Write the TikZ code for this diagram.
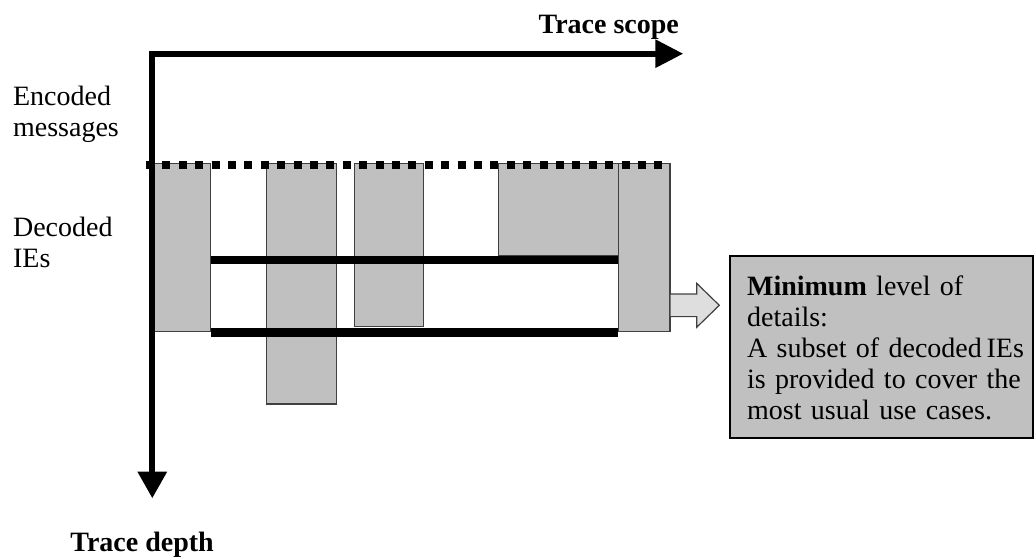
\documentclass[tikz,border=0pt]{standalone}
\usepackage{fontspec}
\setmainfont{Liberation Serif}
\usetikzlibrary{arrows.meta}
\definecolor{barfill}{HTML}{C0C0C0}
\definecolor{bardraw}{HTML}{404040}
\definecolor{pointfill}{HTML}{DEDEDE}

\begin{document}
\begin{tikzpicture}[x=0.5pt,y=-0.5pt,
  every node/.style={inner sep=0pt,font=\fontsize{14}{15.5}\selectfont},
  bar/.style={fill=barfill,draw=bardraw,line width=0.6pt},
  level/.style={line width=4.2pt},
  dotline/.style={line width=4pt,dash pattern=on 4pt off 4.2pt},
  axis/.style={line width=3pt,line join=miter,
    {Triangle[length=13.3pt,width=14pt]}-{Triangle[length=14pt,width=13.5pt]}},
  pointer/.style={fill=pointfill,draw=bardraw,line width=0.6pt},
  infobox/.style={fill=barfill,draw=black,line width=1.1pt},
  sidelabel/.style={anchor=base west,text width=62pt,align=left}]
\useasboundingbox (0,0) rectangle (1034,557);

% bars
\draw[bar] (152.7,163.3) rectangle (210.7,331.7);
\draw[bar] (266.7,163.3) rectangle (336.7,404);
\draw[bar] (354.3,163.3) rectangle (423.7,326.7);
\draw[bar] (498.3,163.3) rectangle (618.3,255.7);
\draw[bar] (618.3,163.3) rectangle (670,331.7);
\coordinate (b5) at (670,305.3);

% levels
\draw[level] (210.7,260.2) -- (618.3,260.2);
\draw[level] (210.7,332.4) -- (618.3,332.4);
\draw[dotline] (146,164.5) -- (668,164.5);

% axes
\coordinate (depthtip) at (152.3,498.3);
\coordinate (scopetip) at (683.3,53.7);
\draw[axis] (depthtip) |- (scopetip);

\node (scope) [anchor=base east,font=\fontsize{14}{15.5}\selectfont\bfseries] at (679.3,33.3) {Trace scope};
\node (depth) [anchor=base west,font=\fontsize{14}{15.5}\selectfont\bfseries] at (70,551.7) {Trace depth};

\node (enc) [sidelabel] at (12.7,105) {Encoded\\messages};
\node (dec) [sidelabel] at (12.7,236) {Decoded\\IEs};

% detail box
\node (detail) [infobox,anchor=north west,minimum width=151.5pt,minimum height=91pt] at (728.5,255) {};
\node (detailtext) [anchor=base west,text width=145pt,align=left] at (746.7,295)
  {\textbf{Minimum} level of\\details:\\A subset of decoded\,IEs\\is provided to cover the\\most usual use cases.};
\draw[pointer] (b5) ++(0,-11.3) -- ++(26.7,0) -- ++(0,-10.7) -- ++(22.6,22)
  -- ++(-22.6,22) -- ++(0,-10.7) -- ++(-26.7,0) -- cycle;
\end{tikzpicture}
\end{document}
